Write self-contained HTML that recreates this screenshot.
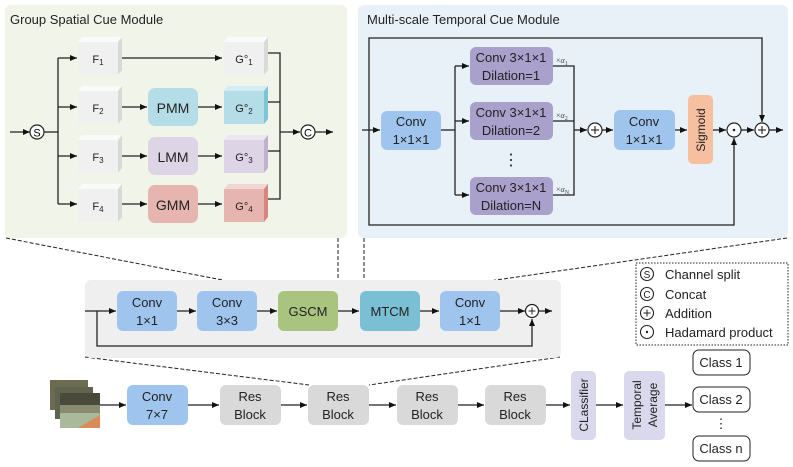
<!DOCTYPE html>
<html><head><meta charset="utf-8"><style>
html,body{margin:0;padding:0;background:#fff;}
svg{display:block;font-family:"Liberation Sans",sans-serif;}
</style></head><body>
<svg width="793" height="467" viewBox="0 0 793 467" xmlns="http://www.w3.org/2000/svg">
<defs>
<marker id="a" markerWidth="8" markerHeight="8" refX="7" refY="4" orient="auto" markerUnits="userSpaceOnUse"><path d="M0,1 L7,4 L0,7 z" fill="#111"/></marker>
</defs>
<!-- panels -->
<rect x="5" y="5" width="342" height="233" rx="6" fill="#f1f5e9"/>
<rect x="358" y="5" width="430" height="233" rx="6" fill="#e8f1f7"/>
<text x="10" y="24" font-size="13" fill="#222">Group Spatial Cue Module</text>
<text x="367" y="24" font-size="13" fill="#222">Multi-scale Temporal Cue Module</text>

<g stroke="#222" stroke-width="1.3" fill="none">
<!-- GSCM lines -->
<line x1="10" y1="132" x2="30" y2="132" marker-end="url(#a)"/>
<line x1="44" y1="132" x2="58" y2="132"/>
<line x1="58" y1="58" x2="58" y2="204"/>
<line x1="58" y1="58" x2="77" y2="58" marker-end="url(#a)"/>
<line x1="58" y1="107" x2="77" y2="107" marker-end="url(#a)"/>
<line x1="58" y1="156" x2="77" y2="156" marker-end="url(#a)"/>
<line x1="58" y1="204" x2="77" y2="204" marker-end="url(#a)"/>
<line x1="120" y1="58" x2="222" y2="58" marker-end="url(#a)"/>
<line x1="120" y1="107" x2="147" y2="107" marker-end="url(#a)"/>
<line x1="120" y1="156" x2="147" y2="156" marker-end="url(#a)"/>
<line x1="120" y1="204" x2="147" y2="204" marker-end="url(#a)"/>
<line x1="198" y1="107" x2="222" y2="107" marker-end="url(#a)"/>
<line x1="198" y1="156" x2="222" y2="156" marker-end="url(#a)"/>
<line x1="198" y1="204" x2="222" y2="204" marker-end="url(#a)"/>
<polyline points="266,53 280,53 280,199 266,199"/>
<line x1="266" y1="102" x2="280" y2="102"/>
<line x1="266" y1="151" x2="280" y2="151"/>
<line x1="280" y1="132" x2="300" y2="132" marker-end="url(#a)"/>
<line x1="315" y1="132" x2="333" y2="132" marker-end="url(#a)"/>
</g>
<g fill="none" stroke="#222" stroke-width="1.2">
<circle cx="37" cy="132" r="7" fill="#fff"/>
<circle cx="308" cy="132" r="7" fill="#fff"/>
</g>
<text x="37" y="136.5" font-size="11" text-anchor="middle">S</text>
<text x="308" y="136.5" font-size="11" text-anchor="middle">C</text>

<!-- 3D boxes -->
<g font-size="11" text-anchor="middle" fill="#222">
<g>
<polygon points="78,42 82,37 122,37 118,42" fill="#fafafa"/><polygon points="118,42 122,37 122,70 118,75" fill="#d9d9d9"/><rect x="78" y="42" width="40" height="33" fill="#f0f0f0"/><text x="98" y="63">F<tspan font-size="8" dy="2">1</tspan></text>
<polygon points="78,91 82,86 122,86 118,91" fill="#fafafa"/><polygon points="118,91 122,86 122,119 118,124" fill="#d9d9d9"/><rect x="78" y="91" width="40" height="33" fill="#f0f0f0"/><text x="98" y="112">F<tspan font-size="8" dy="2">2</tspan></text>
<polygon points="78,140 82,135 122,135 118,140" fill="#fafafa"/><polygon points="118,140 122,135 122,168 118,173" fill="#d9d9d9"/><rect x="78" y="140" width="40" height="33" fill="#f0f0f0"/><text x="98" y="161">F<tspan font-size="8" dy="2">3</tspan></text>
<polygon points="78,189 82,184 122,184 118,189" fill="#fafafa"/><polygon points="118,189 122,184 122,217 118,222" fill="#d9d9d9"/><rect x="78" y="189" width="40" height="33" fill="#f0f0f0"/><text x="98" y="210">F<tspan font-size="8" dy="2">4</tspan></text>

<polygon points="224,42 228,37 268,37 264,42" fill="#fafafa"/><polygon points="264,42 268,37 268,70 264,75" fill="#d9d9d9"/><rect x="224" y="42" width="40" height="33" fill="#f0f0f0"/><text x="244" y="63">G°<tspan font-size="8" dy="2">1</tspan></text>
<polygon points="224,91 228,86 268,86 264,91" fill="#d4ecf4"/><polygon points="264,91 268,86 268,119 264,124" fill="#7cc4d6"/><rect x="224" y="91" width="40" height="33" fill="#b5dde7"/><text x="244" y="112">G°<tspan font-size="8" dy="2">2</tspan></text>
<polygon points="224,140 228,135 268,135 264,140" fill="#ece6f0"/><polygon points="264,140 268,135 268,168 264,173" fill="#c0b1cf"/><rect x="224" y="140" width="40" height="33" fill="#ddd4e6"/><text x="244" y="161">G°<tspan font-size="8" dy="2">3</tspan></text>
<polygon points="224,189 228,184 268,184 264,189" fill="#f2d6d4"/><polygon points="264,189 268,184 268,217 264,222" fill="#d4867f"/><rect x="224" y="189" width="40" height="33" fill="#e6b5b0"/><text x="244" y="210">G°<tspan font-size="8" dy="2">4</tspan></text>
</g>
<rect x="148" y="88" width="50" height="38" rx="7" fill="#b5dde7"/><text x="173" y="113" font-size="14">PMM</text>
<rect x="148" y="137" width="50" height="38" rx="7" fill="#ddd4e6"/><text x="173" y="162" font-size="14">LMM</text>
<rect x="148" y="185" width="50" height="38" rx="7" fill="#e6b5b0"/><text x="173" y="210" font-size="14">GMM</text>
</g>

<!-- MTCM -->
<g stroke="#222" stroke-width="1.3" fill="none">
<polyline points="369,130 369,38 762,38 762,122" marker-end="url(#a)"/>
<line x1="362" y1="130" x2="380" y2="130" marker-end="url(#a)"/>
<line x1="441" y1="130" x2="455" y2="130"/>
<line x1="455" y1="66" x2="455" y2="195"/>
<line x1="455" y1="66" x2="469" y2="66" marker-end="url(#a)"/>
<line x1="455" y1="121" x2="469" y2="121" marker-end="url(#a)"/>
<line x1="455" y1="195" x2="469" y2="195" marker-end="url(#a)"/>
<polyline points="553,66 574,66 574,195 553,195"/>
<line x1="553" y1="121" x2="574" y2="121"/>
<line x1="574" y1="130" x2="587" y2="130" marker-end="url(#a)"/>
<line x1="602" y1="130" x2="613" y2="130" marker-end="url(#a)"/>
<line x1="675" y1="130" x2="687" y2="130" marker-end="url(#a)"/>
<line x1="713" y1="130" x2="726" y2="130" marker-end="url(#a)"/>
<line x1="741" y1="130" x2="754" y2="130" marker-end="url(#a)"/>
<line x1="769" y1="130" x2="783" y2="130" marker-end="url(#a)"/>
<polyline points="369,130 369,225 734,225 734,138" marker-end="url(#a)"/>
</g>
<g fill="#fff" stroke="#222" stroke-width="1.2">
<circle cx="595" cy="130" r="7"/><circle cx="734" cy="130" r="7"/><circle cx="762" cy="130" r="7"/>
</g>
<g stroke="#222" stroke-width="1.1">
<line x1="591" y1="130" x2="599" y2="130"/><line x1="595" y1="126" x2="595" y2="134"/>
<line x1="758" y1="130" x2="766" y2="130"/><line x1="762" y1="126" x2="762" y2="134"/>
</g>
<circle cx="734" cy="130" r="1.3" fill="#222"/>
<g font-size="13" text-anchor="middle" fill="#222">
<rect x="381" y="111" width="60" height="39" rx="6" fill="#9fc5ef"/><text x="411" y="126">Conv</text><text x="411" y="144">1×1×1</text>
<rect x="470" y="47" width="83" height="38" rx="6" fill="#a9a0cc"/><text x="511" y="62">Conv 3×1×1</text><text x="511" y="80">Dilation=1</text>
<rect x="470" y="102" width="83" height="38" rx="6" fill="#a9a0cc"/><text x="511" y="117">Conv 3×1×1</text><text x="511" y="135">Dilation=2</text>
<rect x="470" y="177" width="83" height="38" rx="6" fill="#a9a0cc"/><text x="511" y="192">Conv 3×1×1</text><text x="511" y="210">Dilation=N</text>
<text x="511" y="165" font-size="16">⋮</text>
<rect x="614" y="110" width="61" height="40" rx="6" fill="#9fc5ef"/><text x="644" y="126">Conv</text><text x="644" y="144">1×1×1</text>
<rect x="688" y="95" width="25" height="69" rx="5" fill="#f5bfa0"/><text transform="translate(705,130) rotate(-90)" font-size="12">Sigmoid</text>
</g>
<g font-size="8" font-family="Liberation Serif,serif" fill="#444">
<text x="556" y="63">×<tspan font-style="italic">α</tspan><tspan font-size="6" dy="2">1</tspan></text>
<text x="556" y="118">×<tspan font-style="italic">α</tspan><tspan font-size="6" dy="2">2</tspan></text>
<text x="556" y="192">×<tspan font-style="italic">α</tspan><tspan font-size="6" dy="2">N</tspan></text>
</g>

<!-- dashed connectors -->
<g stroke="#222" stroke-width="1" stroke-dasharray="4,2" fill="none">
<line x1="6" y1="238" x2="279" y2="291"/>
<line x1="338" y1="238" x2="338" y2="291"/>
<line x1="364" y1="238" x2="364" y2="291"/>
<line x1="787" y1="238" x2="420" y2="291"/>
<line x1="85" y1="357" x2="309" y2="385"/>
<line x1="560" y1="357" x2="369" y2="385"/>
</g>

<!-- middle panel -->
<rect x="85" y="280" width="476" height="78" rx="6" fill="#efefef"/>
<g stroke="#222" stroke-width="1.3" fill="none">
<line x1="85" y1="311" x2="116" y2="311" marker-end="url(#a)"/>
<line x1="176" y1="311" x2="196" y2="311" marker-end="url(#a)"/>
<line x1="256" y1="311" x2="277" y2="311" marker-end="url(#a)"/>
<line x1="338" y1="311" x2="359" y2="311" marker-end="url(#a)"/>
<line x1="420" y1="311" x2="439" y2="311" marker-end="url(#a)"/>
<line x1="500" y1="311" x2="525" y2="311" marker-end="url(#a)"/>
<line x1="539" y1="311" x2="552" y2="311" marker-end="url(#a)"/>
<polyline points="97,311 97,346 532,346 532,319" marker-end="url(#a)"/>
</g>
<circle cx="532" cy="311" r="6.5" fill="#fff" stroke="#222" stroke-width="1.2"/>
<line x1="528.5" y1="311" x2="535.5" y2="311" stroke="#222"/><line x1="532" y1="307.5" x2="532" y2="314.5" stroke="#222"/>
<g font-size="13" text-anchor="middle" fill="#222">
<rect x="117" y="291" width="60" height="40" rx="6" fill="#9fc5ef"/><text x="147" y="307">Conv</text><text x="147" y="325">1×1</text>
<rect x="197" y="291" width="60" height="40" rx="6" fill="#9fc5ef"/><text x="227" y="307">Conv</text><text x="227" y="325">3×3</text>
<rect x="278" y="291" width="60" height="40" rx="6" fill="#a9c47f"/><text x="308" y="316">GSCM</text>
<rect x="360" y="291" width="60" height="40" rx="6" fill="#7bbfd4"/><text x="390" y="316">MTCM</text>
<rect x="440" y="291" width="60" height="40" rx="6" fill="#9fc5ef"/><text x="470" y="307">Conv</text><text x="470" y="325">1×1</text>
</g>

<!-- legend -->
<rect x="636" y="263" width="152" height="82" fill="#fff" stroke="#222" stroke-width="1" stroke-dasharray="1.5,1.5"/>
<g fill="#fff" stroke="#222" stroke-width="1.1">
<circle cx="647" cy="274" r="6.5"/><circle cx="647" cy="294" r="6.5"/><circle cx="647" cy="313" r="6.5"/><circle cx="647" cy="332" r="6.5"/>
</g>
<line x1="643.5" y1="313" x2="650.5" y2="313" stroke="#222"/><line x1="647" y1="309.5" x2="647" y2="316.5" stroke="#222"/>
<circle cx="647" cy="332" r="1.2" fill="#222"/>
<g font-size="13" fill="#222">
<text x="647" y="278" font-size="10" text-anchor="middle">S</text>
<text x="647" y="298" font-size="10" text-anchor="middle">C</text>
<text x="665" y="279">Channel split</text>
<text x="665" y="299">Concat</text>
<text x="665" y="318">Addition</text>
<text x="665" y="337">Hadamard product</text>
</g>

<!-- bottom row -->
<g>
<rect x="50" y="380" width="38" height="30" fill="#6d6a52"/>
<rect x="55" y="387" width="38" height="32" fill="#5f6450"/>
<rect x="60" y="393" width="40" height="35" fill="#8a8a70"/>
<rect x="60" y="393" width="40" height="12" fill="#4a4a3a"/>
<rect x="60" y="413" width="40" height="15" fill="#a9b99a"/>
<polygon points="78,428 100,415 100,428" fill="#d98c5a"/>
</g>
<g stroke="#222" stroke-width="1.3" fill="none">
<line x1="100" y1="405" x2="126" y2="405" marker-end="url(#a)"/>
<line x1="188" y1="405" x2="219" y2="405" marker-end="url(#a)"/>
<line x1="281" y1="405" x2="307" y2="405" marker-end="url(#a)"/>
<line x1="369" y1="405" x2="396" y2="405" marker-end="url(#a)"/>
<line x1="458" y1="405" x2="484" y2="405" marker-end="url(#a)"/>
<line x1="546" y1="405" x2="570" y2="405" marker-end="url(#a)"/>
<line x1="596" y1="405" x2="623" y2="405" marker-end="url(#a)"/>
<line x1="665" y1="405" x2="692" y2="405" marker-end="url(#a)"/>
</g>
<g font-size="13" text-anchor="middle" fill="#222">
<rect x="127" y="385" width="61" height="40" rx="6" fill="#9fc5ef"/><text x="157" y="401">Conv</text><text x="157" y="419">7×7</text>
<rect x="220" y="385" width="61" height="40" rx="6" fill="#d9d9d9"/><text x="250" y="401">Res</text><text x="250" y="419">Block</text>
<rect x="308" y="385" width="61" height="40" rx="6" fill="#d9d9d9"/><text x="338" y="401">Res</text><text x="338" y="419">Block</text>
<rect x="397" y="385" width="61" height="40" rx="6" fill="#d9d9d9"/><text x="427" y="401">Res</text><text x="427" y="419">Block</text>
<rect x="485" y="385" width="61" height="40" rx="6" fill="#d9d9d9"/><text x="515" y="401">Res</text><text x="515" y="419">Block</text>
<rect x="571" y="371" width="25" height="69" rx="5" fill="#d9d8ec"/><text transform="translate(588,405) rotate(-90)" font-size="12">CLassifier</text>
<rect x="624" y="371" width="41" height="69" rx="5" fill="#d9d8ec"/><text transform="translate(641,405) rotate(-90)" font-size="12">Temporal</text><text transform="translate(657,405) rotate(-90)" font-size="12">Average</text>
<rect x="693" y="350" width="57" height="25" rx="6" fill="#fff" stroke="#222"/><text x="721" y="367">Class 1</text>
<rect x="693" y="387" width="57" height="25" rx="6" fill="#fff" stroke="#222"/><text x="721" y="404">Class 2</text>
<text x="721" y="428" font-size="13">⋮</text>
<rect x="693" y="436" width="57" height="25" rx="6" fill="#fff" stroke="#222"/><text x="721" y="453">Class n</text>
</g>
</svg>
</body></html>
